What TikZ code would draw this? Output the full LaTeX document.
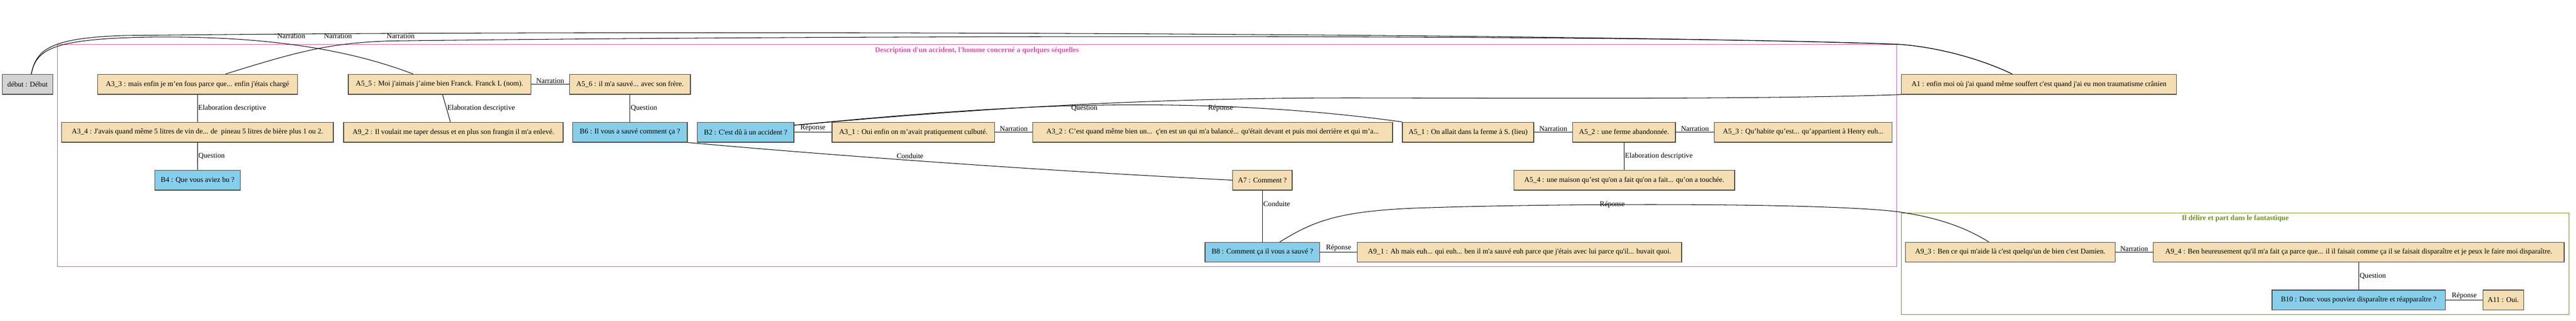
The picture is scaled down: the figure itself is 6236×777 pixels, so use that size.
\documentclass[tikz,border=0pt]{standalone}
\usepackage{fontspec}
\setmainfont{Liberation Serif}[Ligatures=TeXOff]
\usetikzlibrary{calc,positioning}

\definecolor{wheatA}{RGB}{245,222,179}
\definecolor{skyB}{RGB}{135,206,235}
\definecolor{greyD}{RGB}{211,211,211}
\definecolor{rim}{RGB}{70,68,64}
\definecolor{pinkC}{RGB}{218,80,170}
\definecolor{greenC}{RGB}{107,142,35}

\begin{document}
\begin{tikzpicture}[x=1pt, y=-1pt,
    every node/.style={font=\fontsize{17.6}{21}\selectfont},
    box/.style={draw=rim, line width=1.8pt, minimum height=48, inner sep=0pt},
    anode/.style={box, fill=wheatA},
    bnode/.style={box, fill=skyB},
    lbl/.style={inner sep=1.5pt},
    rel/.style={line width=1.3pt}]
  \useasboundingbox (0,0) rectangle (6236,777);

  % clusters
  \draw[pinkC, line width=1pt] (139,107.7) rectangle (4591,645);
  \node[font=\fontsize{17.6}{21}\selectfont\bfseries, text=pinkC] (tdesc) at (2365,122) {Description d'un accident, l'homme concerné a quelques séquelles};
  \draw[greenC, line width=1pt] (4602.5,515) rectangle (6219,760.7);
  \node[font=\fontsize{17.6}{21}\selectfont\bfseries, text=greenC] (tdelire) at (5411,529) {Il délire et part dans le fantastique};

  % first row
  \node[box, fill=greyD, minimum width=122] (debut) at (66.7,204) {début : Début};
  \node[anode, minimum width=484] (a3_3) at (478,204) {A3\_3 : mais enfin je m’en fous parce que... enfin j'étais chargé};
  \node[anode, minimum width=442] (a5_5) at (1064,204) {A5\_5 : Moi j'aimais j’aime bien Franck. Franck L (nom).};
  \node[anode, minimum width=292] (a5_6) at (1525,204) {A5\_6 : il m'a sauvé... avec son frère.};
  \node[anode, minimum width=666] (a1) at (4936,204) {A1 : enfin moi où j'ai quand même souffert c'est quand j'ai eu mon traumatisme crânien};

  % second row
  \node[anode, minimum width=658] (a3_4) at (478,320) {A3\_4 : J'avais quand même 5 litres de vin de... de\ \ pineau 5 litres de bière plus 1 ou 2.};
  \node[anode, minimum width=531] (a9_2) at (1097.5,320) {A9\_2 : Il voulait me taper dessus et en plus son frangin il m'a enlevé.};
  \node[bnode, minimum width=277] (b6) at (1525,320) {B6 : Il vous a sauvé comment ça ?};
  \node[bnode, minimum width=234] (b2) at (1805,320) {B2 : C'est dû à un accident ?};
  \node[anode, minimum width=394] (a3_1) at (2211,320) {A3\_1 : Oui enfin on m’avait pratiquement culbuté.};
  \node[anode, minimum width=871] (a3_2) at (2935.5,320) {A3\_2 : C’est quand même bien un...\ \ ç'en est un qui m'a balancé... qu'était devant et puis moi derrière et qui m’a...};
  \node[anode, minimum width=318] (a5_1) at (3554,320) {A5\_1 : On allait dans la ferme à S. (lieu)};
  \node[anode, minimum width=249] (a5_2) at (3931.5,320) {A5\_2 : une ferme abandonnée.};
  \node[anode, minimum width=430] (a5_3) at (4365,320) {A5\_3 : Qu’habite qu’est... qu’appartient à Henry euh...};

  % third row
  \node[bnode, minimum width=207] (b4) at (478.5,436) {B4 : Que vous aviez bu ?};
  \node[anode, minimum width=144] (a7) at (3056,436) {A7 : Comment ?};
  \node[anode, minimum width=534] (a5_4) at (3932,436) {A5\_4 : une maison qu’est qu'on a fait qu'on a fait... qu’on a touchée.};

  % bottom rows
  \node[bnode, minimum width=278] (b8) at (3056,610.5) {B8 : Comment ça il vous a sauvé ?};
  \node[anode, minimum width=785] (a9_1) at (3678.5,610.5) {A9\_1 : Ah mais euh... qui euh... ben il m'a sauvé euh parce que j'étais avec lui parce qu'il... buvait quoi.};
  \node[anode, minimum width=507] (a9_3) at (4866.5,610.5) {A9\_3 : Ben ce qui m'aide là c'est quelqu'un de bien c'est Damien.};
  \node[anode, minimum width=995] (a9_4) at (5710,610.5) {A9\_4 : Ben heureusement qu'il m'a fait ça parce que... il il faisait comme ça il se faisait disparaître et je peux le faire moi disparaître.};
  \node[bnode, minimum width=420] (b10) at (5710,726) {B10 : Donc vous pouviez disparaître et réapparaître ?};
  \node[anode, minimum width=98] (a11) at (6060,726) {A11 : Oui.};

  \path[rel]
    (a3_3) edge node[right, lbl] {Elaboration descriptive} (a3_4)
    (a3_4) edge node[right, lbl] {Question} (b4)
    (a5_5) edge node[above, lbl] {Narration} (a5_6)
           edge node[right, lbl] {Elaboration descriptive} (a9_2)
    (a5_6) edge node[right, lbl] {Question} (b6)
    (b2) edge node[above, lbl] {Réponse} (a3_1)
    (a3_1) edge node[above, lbl] {Narration} (a3_2)
    (a5_1) edge node[above, lbl] {Narration} (a5_2)
    (a5_2) edge node[above, lbl] {Narration} (a5_3)
           edge node[right, lbl] {Elaboration descriptive} (a5_4)
    (a7) edge node[right, lbl, pos=0.26] {Conduite} (b8)
    (b8) edge node[above, lbl] {Réponse} (a9_1)
    (a9_3) edge node[above, lbl] {Narration} (a9_4)
    (a9_4) edge node[right, lbl] {Question} (b10)
    (b10) edge node[above, lbl] {Réponse} (a11);

  % long curved links
  \draw[rel] ($(debut.north)+(9,0)$) .. controls (88,120) and (120,92) .. (300,86)
    .. controls (1500,72) and (3800,80) .. (4591,107)
    .. controls (4680,112) and (4790,140) .. ($(a1.north)+(-65,0)$);
  \draw[rel] ($(debut.north)+(9,0)$) .. controls (88,120) and (125,95) .. (350,90)
    .. controls (600,86) and (820,110) .. ($(a5_5.north)+(-64,0)$);
  \draw[rel] ($(a3_3.north)+(68,0)$) .. controls (720,125) and (800,103) .. (950,99)
    .. controls (2200,84) and (4000,84) .. (4591,107)
    .. controls (4680,112) and (4790,140) .. ($(a1.north)+(-65,0)$);
  \node[lbl] (lnar1) at (705,87) {Narration};
  \node[lbl] (lnar2) at (818,87) {Narration};
  \node[lbl] (lnar3) at (970,87) {Narration};

  \draw[rel] ($(b2.north east)+(0,8)$) .. controls (2400,260) and (2800,236) .. (3300,237)
    .. controls (3800,238) and (4300,240) .. (a1.south west);
  \draw[rel] ($(b2.north east)+(0,8)$) .. controls (2300,266) and (2550,252) .. (2800,254)
    .. controls (3050,256) and (3250,275) .. (a5_1.north west);
  \node[lbl] (lques) at (2625,262) {Question};
  \node[lbl] (lrep1) at (2955,262) {Réponse};

  \draw[rel] (b6.south east) .. controls (2000,375) and (2500,412) .. (a7.west);
  \node[lbl] (lcond) at (2203,378) {Conduite};

  \draw[rel] ($(b8.north)+(42,0)$) .. controls (3180,535) and (3240,512) .. (3420,504)
    .. controls (3750,492) and (4400,490) .. (4590,512)
    .. controls (4700,527) and (4765,555) .. ($(a9_3.north)+(-52,0)$);
  \node[lbl] (lrep2) at (3903,495) {Réponse};
\end{tikzpicture}
\end{document}
